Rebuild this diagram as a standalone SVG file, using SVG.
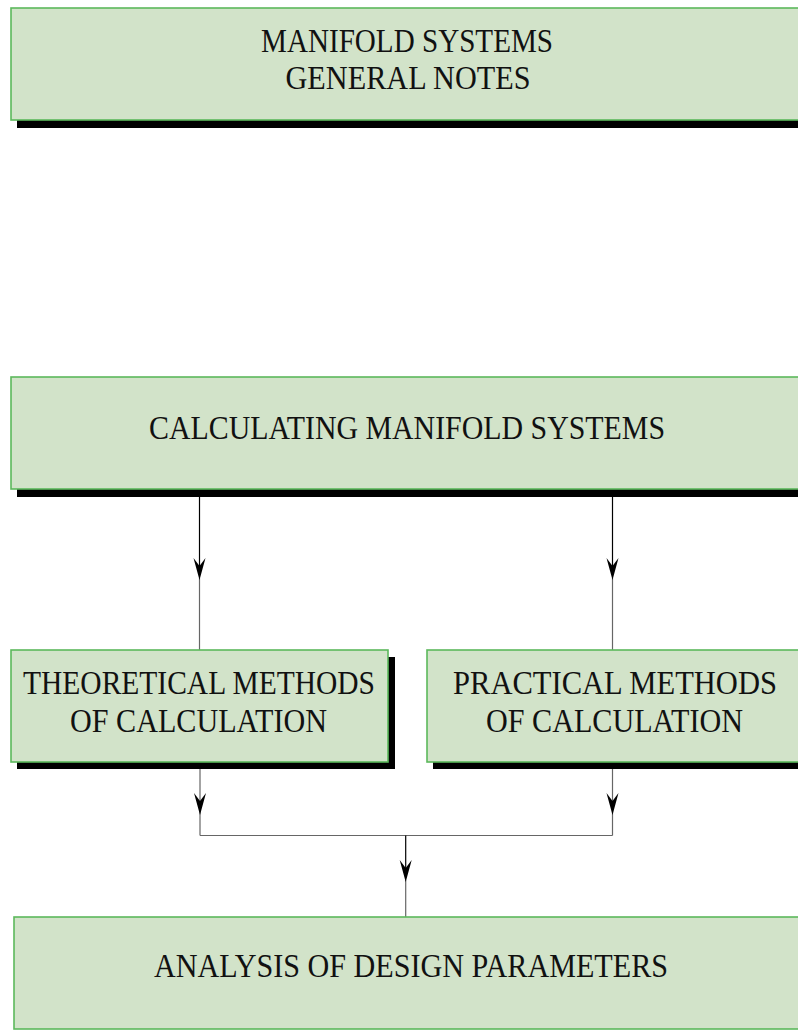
<svg xmlns="http://www.w3.org/2000/svg" width="798" height="1030" viewBox="0 0 798 1030">
<style>
.box{fill:#d2e3c9;stroke:#5cb85c;stroke-width:1.6}
.shadow{fill:#000}
.t{font-family:"Liberation Serif","Times New Roman",serif;font-size:33px;fill:#111;text-anchor:middle}
.ln{stroke:#000;stroke-width:1.2;fill:none}
.lg{stroke:#666;stroke-width:1.2;fill:none}
.ah{fill:#000}
</style>
<defs>
<polygon id="arrow" points="0,0 -6,-22 0,-14 6,-22"/>
</defs>
<rect width="798" height="1030" fill="#fff"/>
<g id="connectors">
<line class="ln" x1="199.5" y1="497" x2="199.5" y2="568"/>
<line class="lg" x1="199.5" y1="578" x2="199.5" y2="650"/>
<use href="#arrow" class="ah" x="199.5" y="580"/>
<line class="ln" x1="612.5" y1="497" x2="612.5" y2="568"/>
<line class="lg" x1="612.5" y1="578" x2="612.5" y2="650"/>
<use href="#arrow" class="ah" x="612.5" y="580"/>
<line class="lg" x1="200" y1="769" x2="200" y2="835.5"/>
<use href="#arrow" class="ah" x="200" y="815"/>
<line class="lg" x1="612.5" y1="769" x2="612.5" y2="835.5"/>
<use href="#arrow" class="ah" x="612.5" y="815"/>
<line class="lg" x1="200" y1="835.5" x2="612.5" y2="835.5"/>
<line class="ln" x1="405.7" y1="835.5" x2="405.7" y2="870"/>
<line class="lg" x1="405.7" y1="880" x2="405.7" y2="917"/>
<use href="#arrow" class="ah" x="405.7" y="882"/>
</g>
<g id="node-general-notes">
<rect class="shadow" x="17" y="16" width="792" height="112"/>
<rect class="box" x="11" y="8" width="792" height="112" stroke-width="2"/>
<text class="t" x="407" y="52" textLength="292" lengthAdjust="spacingAndGlyphs">MANIFOLD SYSTEMS</text>
<text class="t" x="408" y="88.5" textLength="245" lengthAdjust="spacingAndGlyphs">GENERAL NOTES</text>
</g>
<g id="node-calculating">
<rect class="shadow" x="17" y="385" width="792" height="112"/>
<rect class="box" x="11" y="377" width="792" height="112"/>
<text class="t" x="407" y="439" textLength="516" lengthAdjust="spacingAndGlyphs">CALCULATING MANIFOLD SYSTEMS</text>
</g>
<g id="node-theoretical">
<rect class="shadow" x="17" y="657" width="378" height="112"/>
<rect class="box" x="11" y="650" width="377" height="112"/>
<text class="t" x="199" y="694" textLength="352" lengthAdjust="spacingAndGlyphs">THEORETICAL METHODS</text>
<text class="t" x="198.5" y="731.5" textLength="257" lengthAdjust="spacingAndGlyphs">OF CALCULATION</text>
</g>
<g id="node-practical">
<rect class="shadow" x="433" y="657" width="376" height="112"/>
<rect class="box" x="427" y="650" width="376" height="112"/>
<text class="t" x="615" y="694" textLength="324" lengthAdjust="spacingAndGlyphs">PRACTICAL METHODS</text>
<text class="t" x="614.5" y="731.5" textLength="257" lengthAdjust="spacingAndGlyphs">OF CALCULATION</text>
</g>
<g id="node-analysis">
<rect class="box" x="14" y="917" width="794" height="112"/>
<text class="t" x="411" y="977" textLength="514" lengthAdjust="spacingAndGlyphs">ANALYSIS OF DESIGN PARAMETERS</text>
</g>
</svg>
